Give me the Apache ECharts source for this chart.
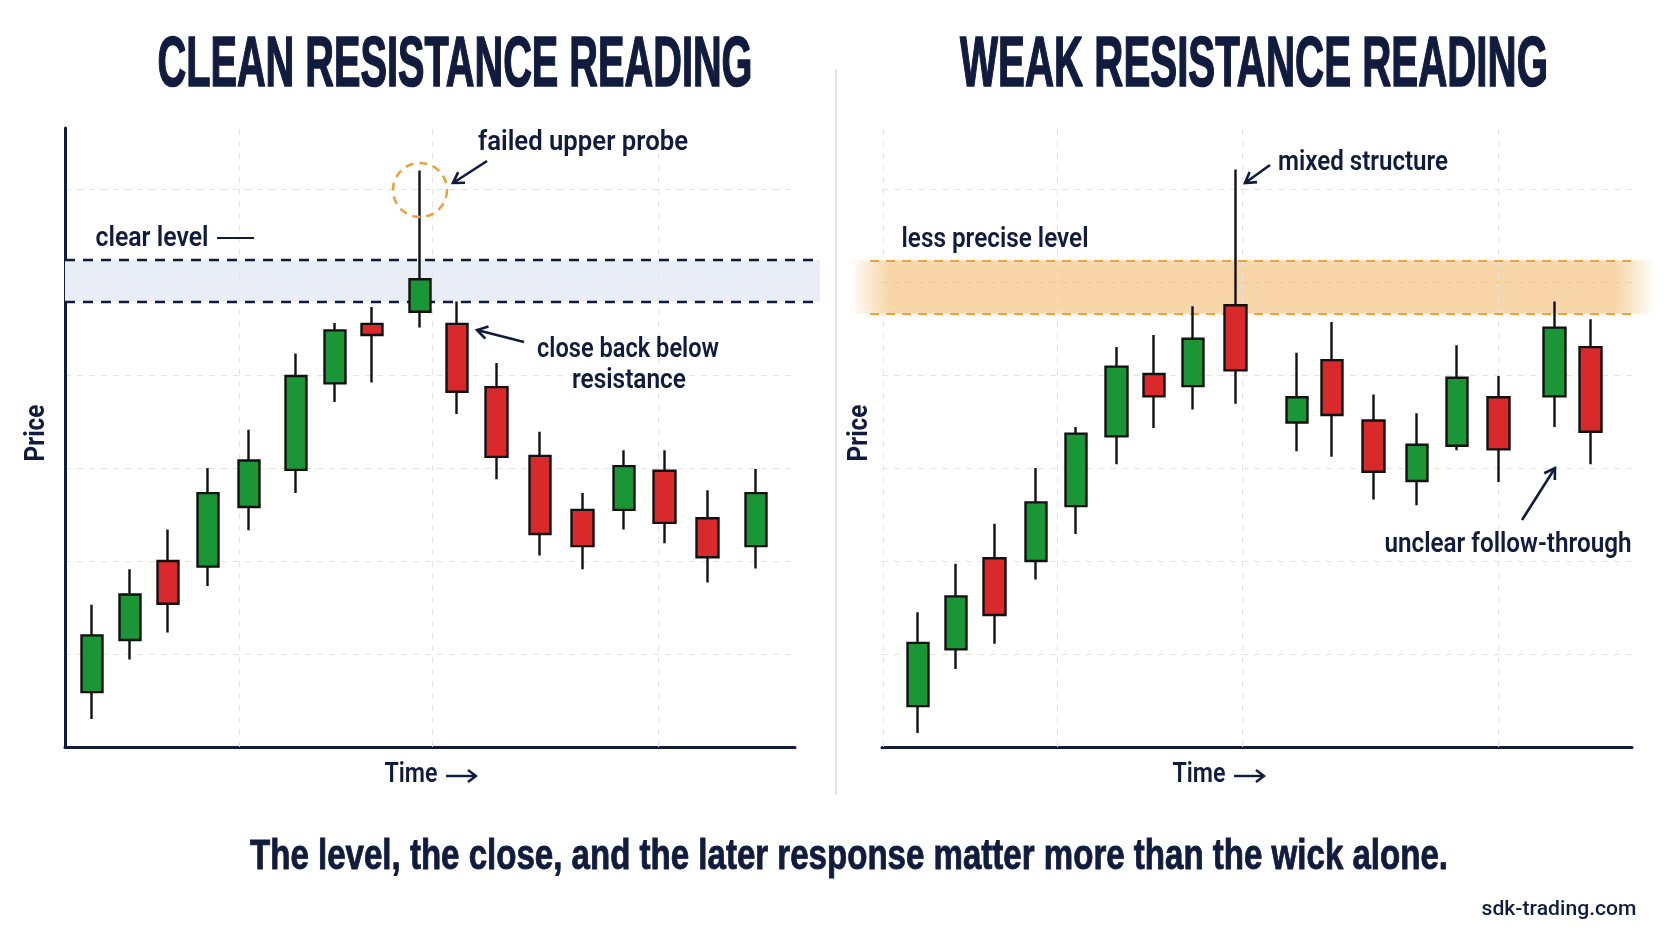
<!DOCTYPE html>
<html><head><meta charset="utf-8">
<script src="https://cdn.jsdelivr.net/npm/echarts@6/dist/echarts.min.js"></script>
<style>html,body{margin:0;padding:0;background:#ffffff}#c{width:1672px;height:941px}</style>
</head><body><div id="c"></div>
<script>
// ---------------- data ----------------
const leftTime  = [0, 0.92, 1.83, 2.8, 3.78, 4.92, 5.86, 6.75, 7.9, 8.79, 9.75, 10.79, 11.82, 12.82, 13.79, 14.83, 16];
const leftOpen  = [5.9, 11.5, 20.0, 19.4, 25.8, 29.8, 39.1, 45.5, 46.8, 45.5, 38.7, 31.3, 25.5, 25.5, 29.7, 24.6, 21.6];
const leftClose = [12.0, 16.4, 15.4, 27.3, 30.8, 39.9, 44.8, 44.3, 50.3, 38.2, 31.2, 22.9, 21.6, 30.2, 24.1, 20.4, 27.3];
const leftLow   = [3.0, 9.4, 12.3, 17.3, 23.3, 27.3, 37.1, 39.2, 45.1, 35.8, 28.8, 20.6, 19.1, 23.4, 21.9, 17.7, 19.2];
const leftHigh  = [15.3, 19.1, 23.4, 30.0, 34.1, 42.3, 45.6, 47.3, 62.0, 47.9, 41.3, 33.9, 27.3, 31.9, 31.9, 27.6, 29.9];
const leftLevel = [47.9, 52.4];
const leftVGrid = [3.54, 8.19, 13.64];

const rightTime  = [0, 0.9, 1.82, 2.8, 3.76, 4.72, 5.61, 6.54, 7.55, 9.02, 9.85, 10.84, 11.87, 12.82, 13.81, 15.15, 16];
const rightOpen  = [4.4, 10.5, 20.3, 20.0, 25.9, 33.4, 40.1, 38.8, 47.5, 34.9, 41.6, 35.1, 28.6, 32.4, 37.6, 37.7, 43.0];
const rightClose = [11.2, 16.2, 14.2, 26.3, 33.7, 40.9, 37.7, 43.9, 40.5, 37.6, 35.7, 29.6, 32.5, 39.7, 32.0, 45.1, 33.9];
const rightLow   = [1.5, 8.4, 11.1, 18.0, 22.9, 30.4, 34.3, 36.3, 36.9, 31.8, 31.2, 26.6, 26.0, 31.9, 28.5, 34.4, 30.4];
const rightHigh  = [14.5, 19.7, 24.0, 30.0, 34.4, 43.0, 44.3, 47.4, 62.1, 42.4, 45.7, 37.9, 35.9, 43.2, 39.9, 47.9, 46.0];
const rightLevel = [46.6, 52.3];
const rightVGrid = [-0.82, 3.3, 7.71, 13.8];

const yMin = 0, yMax = 66.56, yStep = 10;

const titles = ['CLEAN RESISTANCE READING', 'WEAK RESISTANCE READING'];
const footnote = 'The level, the close, and the later response matter more than the wick alone.';
const source = 'sdk-trading.com';

// ---------------- styles ----------------
const NAVY = '#101b3d';
const GREEN = '#1b9637';
const RED = '#d9292b';
const GRIDC = '#e4e4e4';
const ORANGE = '#e9a43f';
const NARROW = "'Liberation Sans Narrow', 'Liberation Sans', Arial, sans-serif";
const SANS = "Roboto, 'Liberation Sans', sans-serif";

const mctx = document.createElement('canvas').getContext('2d');
function fitText(text, cx, cy, targetW, size, weight, family, color, rotation, strokeW) {
  mctx.font = weight + ' ' + size + 'px ' + family;
  const w = mctx.measureText(text).width || targetW;
  const style = { text: text, x: 0, y: 0, align: 'center', verticalAlign: 'middle',
      fontSize: size, fontWeight: weight, fontFamily: family, fill: color };
  if (strokeW) { style.stroke = color; style.lineWidth = strokeW; }
  return {
    type: 'text', x: cx, y: cy, z: 100, scaleX: targetW / w, scaleY: 1,
    rotation: rotation || 0, silent: true, style: style
  };
}
function arrow(x1, y1, x2, y2) {
  const a = Math.atan2(y2 - y1, x2 - x1), L = 12, s = 0.55;
  return [
    { type: 'line', z: 100, silent: true, shape: { x1: x1, y1: y1, x2: x2, y2: y2 }, style: { stroke: NAVY, lineWidth: 2.6 } },
    { type: 'polyline', z: 100, silent: true, shape: { points: [
      [x2 - L * Math.cos(a - s), y2 - L * Math.sin(a - s)], [x2, y2],
      [x2 - L * Math.cos(a + s), y2 - L * Math.sin(a + s)]] },
      style: { stroke: NAVY, lineWidth: 2.6, fill: 'none' } }
  ];
}
function timeLabel(x0, cy) {
  return [
    fitText('Time', x0 + 26, cy, 53, 27, 600, SANS, NAVY),
    { type: 'line', z: 100, silent: true, shape: { x1: x0 + 61, y1: cy + 1, x2: x0 + 90, y2: cy + 1 }, style: { stroke: NAVY, lineWidth: 2.4 } },
    { type: 'polyline', z: 100, silent: true, shape: { points: [[x0 + 83, cy - 5], [x0 + 91, cy + 1], [x0 + 83, cy + 7]] }, style: { stroke: NAVY, lineWidth: 2.4, fill: 'none' } }
  ];
}

function candleData(t, o, c, l, h) {
  return t.map((v, i) => [v, o[i], c[i], l[i], h[i]]);
}

const chart = echarts.init(document.getElementById('c'), null, { renderer: 'canvas', width: 1672, height: 941 });

const hiddenX = (g) => ({ gridIndex: g, type: 'value', min: 0, max: 1, show: false });
const mainX = (g, min, max) => ({
  gridIndex: g, type: 'value', min: min, max: max,
  axisLine: { show: true, onZero: false, lineStyle: { color: NAVY, width: 3 } },
  axisTick: { show: false }, axisLabel: { show: false }, splitLine: { show: false }
});
const mainY = (g, showLine) => ({
  gridIndex: g, type: 'value', min: yMin, max: yMax, interval: yStep,
  axisLine: { show: showLine, onZero: false, lineStyle: { color: NAVY, width: 3 } },
  axisTick: { show: false }, axisLabel: { show: false },
  splitLine: { show: true, showMinLine: false, showMaxLine: false,
    lineStyle: { color: GRIDC, type: [6, 6], width: 1 } }
});
const hiddenY = (g) => ({ gridIndex: g, type: 'value', min: yMin, max: yMax, show: false, splitLine: { show: false } });

const candleStyle = {
  color: GREEN, color0: RED, borderColor: '#111111', borderColor0: '#111111', borderWidth: 2.4
};

const vgridSeries = (xi, vals) => ({
  type: 'line', xAxisIndex: xi, yAxisIndex: xi, data: [], z: 1, silent: true,
  markLine: { silent: true, symbol: ['none', 'none'], label: { show: false },
    lineStyle: { color: GRIDC, type: [6, 6], width: 1 }, animation: false,
    data: vals.map(v => ({ xAxis: v })) }
});

const graphics = [
  { type: 'line', z: 50, silent: true, shape: { x1: 836, y1: 69, x2: 836, y2: 795 }, style: { stroke: '#dcdcdc', lineWidth: 1.5 } },
  fitText(titles[0], 455, 67, 595, 70, 'bold', NARROW, NAVY, 0, 1.6),
  fitText(titles[1], 1254, 67, 588, 70, 'bold', NARROW, NAVY, 0, 1.6),
  fitText(footnote, 849, 857, 1198, 42, 'bold', NARROW, NAVY, 0, 0.9),
  fitText(source, 1559, 910, 155, 21, 500, SANS, NAVY),
  fitText('Price', 37, 433, 57, 27, 'bold', SANS, NAVY, Math.PI / 2),
  fitText('Price', 860, 433, 57, 27, 'bold', SANS, NAVY, Math.PI / 2),
  fitText('failed upper probe', 583, 143, 210, 27, 600, SANS, NAVY),
  fitText('clear level', 152, 239, 113, 27, 600, SANS, NAVY),
  { type: 'line', z: 100, silent: true, shape: { x1: 217, y1: 238, x2: 254, y2: 238 }, style: { stroke: NAVY, lineWidth: 2 } },
  fitText('close back below', 628, 350, 182, 27, 600, SANS, NAVY),
  fitText('resistance', 629, 381, 114, 27, 600, SANS, NAVY),
  fitText('less precise level', 995, 240, 187, 27, 600, SANS, NAVY),
  fitText('mixed structure', 1363, 163, 170, 27, 600, SANS, NAVY),
  fitText('unclear follow-through', 1508, 545, 247, 27, 600, SANS, NAVY),
  { type: 'circle', z: 90, silent: true, shape: { cx: 420, cy: 190, r: 27 },
    style: { fill: 'none', stroke: ORANGE, lineWidth: 2.6, lineDash: [8, 6] } }
].concat(
  timeLabel(385, 775), timeLabel(1173, 775),
  arrow(487, 161, 453, 183), arrow(524, 342, 477, 330), arrow(1270, 165, 1245, 183), arrow(1522, 520, 1555, 468)
);

const option = {
  animation: false,
  backgroundColor: '#ffffff',
  grid: [
    { left: 65, top: 128, width: 730, height: 619, outerBoundsMode: 'none' },
    { left: 882, top: 128, width: 750, height: 619, outerBoundsMode: 'none' },
    { left: 65, top: 128, width: 755, height: 619, outerBoundsMode: 'none' },
    { left: 850, top: 128, width: 805, height: 619, outerBoundsMode: 'none' }
  ],
  xAxis: [mainX(0, -0.65, 16.94), mainX(1, -0.86, 16.99), hiddenX(2), hiddenX(3)],
  yAxis: [mainY(0, true), mainY(1, false), hiddenY(2), hiddenY(3)],
  series: [
    vgridSeries(0, leftVGrid),
    vgridSeries(1, rightVGrid),
    {
      type: 'line', xAxisIndex: 2, yAxisIndex: 2, data: [], z: 2, silent: true,
      markArea: { silent: true, itemStyle: { color: '#e9edf5' },
        data: [[{ yAxis: leftLevel[0] }, { yAxis: leftLevel[1] }]] },
      markLine: { silent: true, symbol: ['none', 'none'], label: { show: false },
        lineStyle: { color: NAVY, width: 2.4, type: [10, 8] },
        data: [{ yAxis: leftLevel[0] }, { yAxis: leftLevel[1] }] }
    },
    {
      type: 'line', xAxisIndex: 3, yAxisIndex: 3, data: [], z: 2, silent: true,
      markArea: { silent: true,
        itemStyle: {
          color: new echarts.graphic.LinearGradient(0, 0, 1, 0, [
            { offset: 0, color: 'rgba(238,172,82,0)' },
            { offset: 0.05, color: 'rgba(238,172,82,0.42)' },
            { offset: 0.95, color: 'rgba(238,172,82,0.42)' },
            { offset: 1, color: 'rgba(238,172,82,0)' }
          ]),
          shadowBlur: 8, shadowColor: 'rgba(238,172,82,0.35)'
        },
        data: [[{ yAxis: rightLevel[0] }, { yAxis: rightLevel[1] }]] },
      markLine: { silent: true, symbol: ['none', 'none'], label: { show: false },
        lineStyle: { color: ORANGE, width: 2, type: [9, 7] },
        data: [
          [{ xAxis: 0.025, yAxis: rightLevel[0] }, { xAxis: 0.978, yAxis: rightLevel[0] }],
          [{ xAxis: 0.025, yAxis: rightLevel[1] }, { xAxis: 0.978, yAxis: rightLevel[1] }]
        ] }
    },
    {
      type: 'candlestick', xAxisIndex: 0, yAxisIndex: 0, z: 5, barWidth: 22,
      encode: { x: 0, y: [1, 2, 3, 4] },
      itemStyle: candleStyle,
      data: candleData(leftTime, leftOpen, leftClose, leftLow, leftHigh)
    },
    {
      type: 'candlestick', xAxisIndex: 1, yAxisIndex: 1, z: 5, barWidth: 22,
      encode: { x: 0, y: [1, 2, 3, 4] },
      itemStyle: candleStyle,
      data: candleData(rightTime, rightOpen, rightClose, rightLow, rightHigh)
    }
  ],
  graphic: { elements: graphics }
};
chart.setOption(option);
</script>
</body></html>
